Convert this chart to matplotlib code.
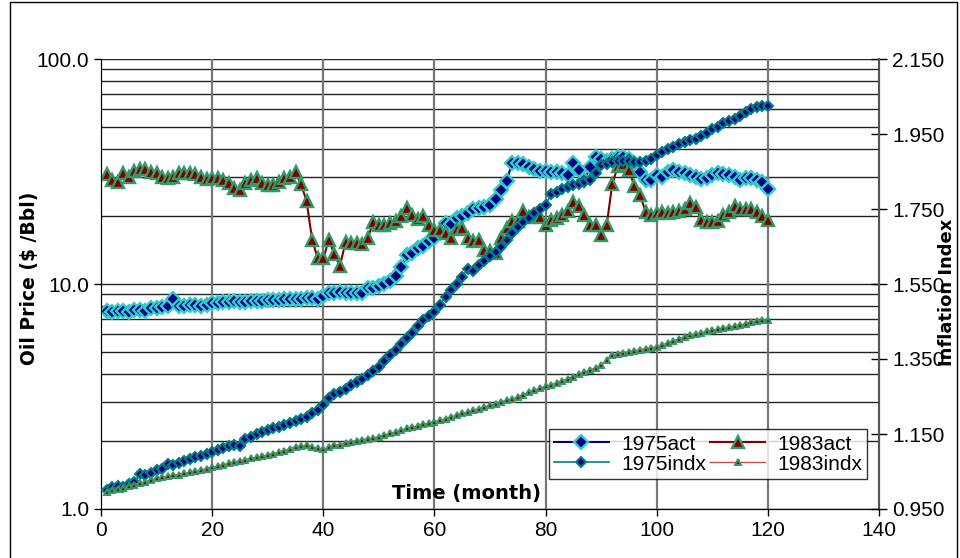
import numpy as np
import matplotlib
matplotlib.use("Agg")
import matplotlib.pyplot as plt
from matplotlib.patches import Rectangle

plt.rcParams['font.family'] = ['Liberation Sans', 'DejaVu Sans']

months = np.arange(1, 121)

# monthly oil price, $/Bbl
price_1975 = [
    7.6, 7.5, 7.6, 7.6, 7.5, 7.7, 7.7, 7.6, 7.8, 7.8,
    7.9, 8.0, 8.6, 8.0, 8.0, 8.1, 8.1, 8.0, 8.1, 8.2,
    8.2, 8.3, 8.3, 8.4, 8.3, 8.3, 8.4, 8.4, 8.4, 8.5,
    8.5, 8.5, 8.6, 8.6, 8.6, 8.6, 8.7, 8.7, 8.6, 8.8,
    9.1, 9.1, 9.25, 9.1, 9.15, 9.1, 9.15, 9.55, 9.6, 9.8,
    9.95, 10.35, 10.8, 11.9, 13.4, 13.8, 14.4, 14.8, 15.6, 16.0,
    16.9, 18.6, 18.4, 19.6, 20.0, 20.6, 21.5, 21.7, 22.1, 22.4,
    23.8, 26.2, 28.8, 34.6, 34.6, 34.3, 33.2, 32.3, 31.8, 31.8,
    31.6, 31.6, 31.3, 30.5, 34.4, 32.1, 29.0, 33.0, 36.8, 35.8,
    35.3, 35.8, 36.5, 36.8, 36.0, 34.4, 31.6, 29.0, 29.0, 30.5,
    30.0, 31.6, 32.1, 31.6, 31.0, 30.5, 30.0, 29.3, 29.6, 30.5,
    31.0, 30.8, 30.5, 30.0, 29.0, 29.6, 29.6, 29.0, 28.5, 26.4,
]
price_1983 = [
    30.8, 29.1, 28.5, 31.0, 30.0, 31.7, 32.3, 32.3, 31.5, 31.0,
    30.0, 29.5, 30.0, 31.0, 31.0, 31.0, 30.8, 30.0, 29.3, 29.5,
    29.5, 29.0, 28.0, 26.7, 26.3, 28.0, 29.0, 29.5, 28.0, 27.5,
    27.5, 28.5, 29.5, 30.0, 31.5, 27.8, 23.3, 15.7, 13.0, 13.0,
    15.7, 13.6, 12.0, 15.4, 15.2, 15.2, 15.0, 16.0, 18.8, 18.3,
    18.3, 18.6, 19.0, 20.0, 21.8, 20.3, 19.5, 20.0, 18.3, 17.4,
    17.4, 16.9, 16.0, 17.6, 17.8, 16.0, 15.5, 15.7, 14.2, 14.0,
    13.8, 16.0, 17.8, 19.0, 19.0, 21.2, 19.8, 20.3, 19.8, 18.3,
    19.3, 19.6, 20.3, 21.2, 23.1, 22.2, 20.3, 18.3, 18.3, 16.5,
    18.3, 27.8, 33.4, 34.0, 32.0, 27.2, 24.9, 21.0, 20.3, 20.6,
    21.0, 20.6, 21.0, 21.2, 21.6, 23.0, 22.0, 19.3, 18.8, 18.9,
    19.0, 20.3, 21.0, 22.2, 21.6, 21.6, 21.5, 21.0, 20.0, 19.2,
]

# cumulative inflation index
index_1975 = [
    1.001, 1.008, 1.012, 1.010, 1.018, 1.022, 1.043, 1.042, 1.046, 1.054,
    1.058, 1.070, 1.068, 1.072, 1.079, 1.083, 1.088, 1.092, 1.097, 1.103,
    1.108, 1.113, 1.118, 1.121, 1.118, 1.138, 1.143, 1.150, 1.156, 1.161,
    1.165, 1.170, 1.175, 1.180, 1.186, 1.190, 1.196, 1.205, 1.215, 1.227,
    1.245, 1.256, 1.262, 1.270, 1.281, 1.290, 1.298, 1.307, 1.318, 1.330,
    1.345, 1.361, 1.375, 1.390, 1.405, 1.420, 1.437, 1.454, 1.465, 1.476,
    1.495, 1.516, 1.533, 1.551, 1.570, 1.589, 1.586, 1.600, 1.612, 1.625,
    1.636, 1.650, 1.668, 1.685, 1.703, 1.715, 1.727, 1.739, 1.750, 1.761,
    1.789, 1.795, 1.803, 1.808, 1.814, 1.818, 1.822, 1.827, 1.845, 1.867,
    1.870, 1.876, 1.877, 1.878, 1.878, 1.876, 1.875, 1.879, 1.884, 1.894,
    1.902, 1.909, 1.916, 1.923, 1.930, 1.934, 1.938, 1.944, 1.953, 1.963,
    1.970, 1.979, 1.985, 1.990, 1.998, 2.008, 2.016, 2.023, 2.024, 2.024,
]
index_1983 = [
    0.996, 1.000, 1.004, 1.007, 1.011, 1.015, 1.019, 1.023, 1.028, 1.032,
    1.035, 1.037, 1.040, 1.042, 1.045, 1.048, 1.051, 1.054, 1.058, 1.061,
    1.065, 1.068, 1.072, 1.075, 1.079, 1.082, 1.085, 1.088, 1.091, 1.094,
    1.098, 1.102, 1.106, 1.111, 1.116, 1.118, 1.120, 1.116, 1.112, 1.110,
    1.115, 1.120, 1.122, 1.126, 1.130, 1.132, 1.135, 1.138, 1.140, 1.143,
    1.147, 1.152, 1.156, 1.160, 1.165, 1.168, 1.172, 1.176, 1.179, 1.183,
    1.187, 1.191, 1.196, 1.200, 1.205, 1.209, 1.214, 1.218, 1.222, 1.227,
    1.231, 1.236, 1.240, 1.244, 1.249, 1.255, 1.261, 1.267, 1.272, 1.278,
    1.281, 1.287, 1.292, 1.298, 1.303, 1.309, 1.315, 1.321, 1.327, 1.334,
    1.347, 1.360, 1.364, 1.367, 1.370, 1.372, 1.375, 1.378, 1.380, 1.383,
    1.388, 1.393, 1.399, 1.404, 1.410, 1.414, 1.417, 1.420, 1.424, 1.427,
    1.430, 1.433, 1.436, 1.438, 1.441, 1.444, 1.448, 1.452, 1.454, 1.454,
]

x_ticks = [0, 20, 40, 60, 80, 100, 120, 140]
price_ticks = [1, 10, 100]
price_labels = ["1.0", "10.0", "100.0"]
index_ticks = [0.95, 1.15, 1.35, 1.55, 1.75, 1.95, 2.15]

NAVY = "#000080"
CYAN = "#33CCCC"
MAROON = "#800000"
GREEN = "#339966"
TEAL = "#008080"
PINK = "#C05050"

W, H = 960, 558
fig = plt.figure(figsize=(9.6, 5.58), dpi=100)
ax = fig.add_axes([101 / W, 49 / H, 778 / W, 450 / H])
ax2 = ax.twinx()

# price on log scale
ax.set_yscale("log")
ax.set_ylim(1, 100)
ax.set_xlim(0, 140)
ax.set_xticks(x_ticks)
ax.set_yticks(price_ticks)
ax.set_yticklabels(price_labels)
ax.yaxis.set_minor_formatter(matplotlib.ticker.NullFormatter())
ax.tick_params(axis="y", which="minor", length=0)
ax.tick_params(axis="both", which="major", labelsize=15, length=5, width=1, direction="out")

# horizontal grid at every log step, vertical at the x ticks
for dec in [1, 10]:
    for k in range(1, 10):
        ax.axhline(dec * k, color="#222222", lw=1.0, zorder=0)
ax.axhline(100, color="#222222", lw=1.0, zorder=0)
for xv in x_ticks[1:-1]:
    ax.axvline(xv, color="#777777", lw=1.6, zorder=0)

l1, = ax.plot(months, price_1975, color=NAVY, lw=1.5, marker="D", ms=7,
              mfc=NAVY, mec=CYAN, mew=1.7, label="1975act", zorder=3)
l2, = ax.plot(months, price_1983, color=MAROON, lw=1.5, marker="^", ms=8.5,
              mfc=MAROON, mec=GREEN, mew=1.7, label="1983act", zorder=3)

ax2.set_ylim(0.95, 2.15)
ax2.set_yticks(index_ticks)
ax2.set_yticklabels([f"{v:.3f}" for v in index_ticks])
ax2.tick_params(axis="y", labelsize=15, length=11, width=1, direction="inout", pad=4)
l3, = ax2.plot(months, index_1975, color=TEAL, lw=1.2, marker="D", ms=4.6,
               mfc=NAVY, mec=TEAL, mew=1.5, label="1975indx", zorder=3)
l4, = ax2.plot(months, index_1983, color=PINK, lw=1.0, marker="^", ms=5,
               mfc=MAROON, mec=GREEN, mew=1.4, label="1983indx", zorder=3)

for a in (ax, ax2):
    a.spines["top"].set_visible(False)
ax.spines["left"].set_color("black")
ax.spines["bottom"].set_color("black")
ax2.spines["right"].set_color("#555555")
ax2.spines["right"].set_linewidth(1.5)

# axis titles placed in pixel terms (y measured from the top)
title_font = dict(family=["DejaVu Sans"], fontweight="bold")
fig.text(30 / W, 1 - 278 / H, "Oil Price ($ /Bbl)", rotation=90, ha="center",
         va="center", fontsize=13.5, **title_font)
fig.text(947 / W, 1 - 292 / H, "Inflation Index", rotation=90, ha="center",
         va="center", fontsize=13, **title_font)
fig.text(466 / W, 1 - 493 / H, "Time (month)", ha="center", va="center",
         fontsize=14, **title_font)

leg = ax2.legend(handles=[l1, l3, l2, l4], ncol=2, loc="lower left",
                 bbox_to_anchor=(0.576, 0.067, 0.409, 0.12), mode="expand",
                 fontsize=15, frameon=True, fancybox=False, edgecolor="black",
                 handlelength=2.6, borderpad=0.25, labelspacing=0.05,
                 handletextpad=0.6, columnspacing=1.0, borderaxespad=0)
leg.get_frame().set_linewidth(1.0)
leg.set_zorder(5)

# chart border
fig.patches.append(Rectangle((10 / W, -0.01), 947 / W, 1.0 - 2 / H + 0.01,
                             transform=fig.transFigure, fill=False,
                             edgecolor="black", lw=1.0))

fig.savefig("out.png", dpi=100)
